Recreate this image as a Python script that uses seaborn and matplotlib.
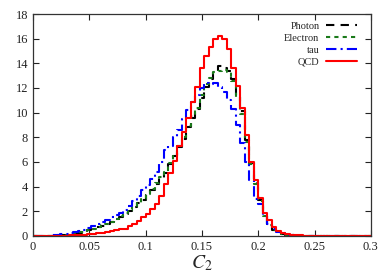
import numpy as np
import pandas as pd
import seaborn as sns
import matplotlib.pyplot as plt
from matplotlib.ticker import FuncFormatter

# bin edges for C2 (width 0.004)
bin_width = 0.004
n_bins = 75

photon = [0, 0, 0, 0.01, 0.02, 0.04, 0.06, 0.1, 0.14, 0.2,
          0.27, 0.35, 0.46, 0.58, 0.7, 0.83, 0.98, 1.13, 1.33, 1.55,
          1.8, 2.05, 2.35, 2.65, 2.95, 3.3, 3.7, 4.2, 4.7, 5.1,
          5.8, 6.5, 7.2, 7.9, 8.8, 9.6, 10.3, 11.2, 12.1, 12.7,
          13.3, 13.8, 13.6, 13.4, 12.7, 11.4, 10.1, 7.8, 5.9, 4.3,
          2.9, 1.7, 0.95, 0.5, 0.3, 0.18, 0.1, 0.05, 0.03, 0.02]
electron = [0, 0, 0, 0.01, 0.02, 0.04, 0.07, 0.1, 0.15, 0.2,
            0.28, 0.36, 0.48, 0.6, 0.72, 0.85, 1.0, 1.15, 1.35, 1.6,
            1.85, 2.1, 2.4, 2.7, 3.0, 3.4, 3.8, 4.3, 4.8, 5.2,
            5.9, 6.6, 7.3, 8.0, 8.9, 9.7, 10.4, 11.4, 12.3, 12.8,
            13.3, 13.4, 13.5, 13.3, 12.6, 11.3, 9.9, 7.6, 5.8, 4.2,
            2.8, 1.6, 0.9, 0.5, 0.3, 0.18, 0.1, 0.05, 0.03, 0.02]
tau = [0, 0.01, 0.02, 0.03, 0.05, 0.08, 0.12, 0.18, 0.25, 0.33,
       0.42, 0.52, 0.65, 0.8, 0.95, 1.1, 1.3, 1.5, 1.7, 1.9,
       2.1, 2.4, 2.8, 3.2, 3.7, 4.1, 4.6, 5.2, 6.0, 7.0,
       7.3, 8.0, 8.6, 9.5, 10.2, 10.9, 11.4, 12.0, 12.4, 12.3,
       12.4, 12.1, 11.7, 11.0, 10.3, 9.0, 7.5, 6.0, 4.5, 3.0,
       2.6, 1.6, 1.0, 0.6, 0.35, 0.2, 0.1, 0.05, 0.02]
qcd = [0, 0, 0, 0, 0, 0.01, 0.02, 0.03, 0.04, 0.06,
       0.08, 0.1, 0.13, 0.16, 0.2, 0.25, 0.3, 0.38, 0.48, 0.6,
       0.6, 0.8, 1.0, 1.2, 1.5, 1.8, 2.2, 2.6, 3.2, 4.2,
       5.1, 6.1, 7.3, 8.4, 9.6, 10.9, 12.1, 13.6, 14.6, 15.3,
       16.0, 16.2, 16.0, 15.2, 13.6, 12.2, 10.4, 8.2, 6.0, 4.5,
       3.1, 1.9, 1.3, 0.7, 0.4, 0.25, 0.15, 0.1, 0.07, 0.05,
       0.03, 0.02]

series = {'Photon': photon, 'Electron': electron, 'tau': tau, 'QCD': qcd}
styles = {
    'Photon': dict(color='black', linestyle=(0, (4, 3))),
    'Electron': dict(color='#1a7a1a', linestyle=(0, (2, 2))),
    'tau': dict(color='blue', linestyle=(0, (5, 2, 1, 2))),
    'QCD': dict(color='red', linestyle='-'),
}

centers = (np.arange(n_bins) + 0.5) * bin_width

rows = []
for name, vals in series.items():
    vals = list(vals) + [0] * (n_bins - len(vals))
    rows.append(pd.DataFrame({'c2': centers, 'w': vals, 'sample': name}))
df = pd.concat(rows, ignore_index=True)

sns.set_style('ticks')
plt.rcParams['font.family'] = ['Liberation Serif', 'DejaVu Serif']
plt.rcParams['mathtext.fontset'] = 'stix'

fig = plt.figure(figsize=(3.92, 2.75), dpi=100)
ax = fig.add_axes([0.084, 0.142, 0.862, 0.807])

for name in series:
    sub = df[df['sample'] == name]
    sns.histplot(data=sub, x='c2', weights='w', binwidth=bin_width,
                 binrange=(0, n_bins * bin_width), element='step',
                 fill=False, stat='count', linewidth=1.5, label=name, ax=ax,
                 **styles[name])

ax.set_xlim(0, 0.3)
ax.set_ylim(0, 18)
ax.set_xticks(np.arange(0, 0.301, 0.05))
ax.set_yticks(np.arange(0, 19, 2))
ax.xaxis.set_major_formatter(FuncFormatter(lambda v, p: '%g' % round(v, 3)))
ax.tick_params(direction='in', top=True, right=True, length=4, width=0.8,
               labelsize=9, colors='#222222')
for s in ax.spines.values():
    s.set_linewidth(0.9)
    s.set_color('#333333')
ax.set_xlabel(r'$C_2$', fontsize=14, labelpad=0)
ax.set_ylabel('')

ax.legend(loc='upper right', bbox_to_anchor=(0.982, 1.0), frameon=False,
          markerfirst=False, fontsize=7.5, handlelength=3.0,
          labelspacing=0.25, borderaxespad=0.35, handletextpad=0.6)

fig.savefig('out.png', dpi=100)
